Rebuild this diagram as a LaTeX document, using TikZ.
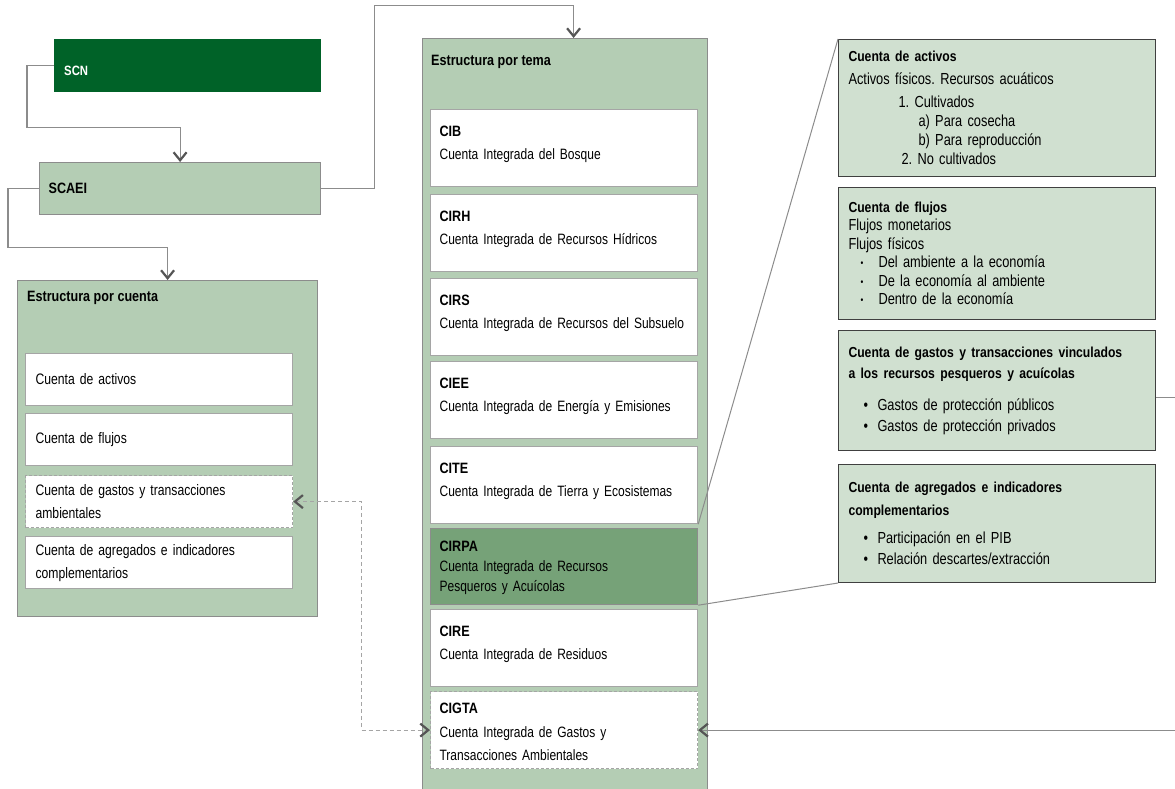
\documentclass[tikz,border=0pt]{standalone}
\usepackage{fontspec}
\setmainfont[FakeStretch=0.8, BoldFeatures={FakeStretch=0.84}]{Liberation Sans}
\usetikzlibrary{arrows.meta}
\definecolor{verdeosc}{RGB}{0,98,40}
\definecolor{salvia}{RGB}{180,205,180}
\definecolor{verdemed}{RGB}{118,162,120}
\definecolor{verdepal}{RGB}{208,224,208}
\definecolor{borde}{RGB}{140,140,140}
\definecolor{bordeint}{RGB}{165,165,165}
\definecolor{oscuro}{RGB}{64,64,64}
\definecolor{flecha}{RGB}{85,85,85}
\frenchspacing
% encabezados de los recuadros de detalle
\newcommand{\cab}[1]{{\bfseries\fontsize{14.5}{21}\selectfont #1}}
\begin{document}
\begin{tikzpicture}[x=1pt, y=-1pt,
	panel/.style={draw=borde, line width=1.2pt, fill=salvia, anchor=north west, inner sep=0pt},
	titulo/.style={anchor=west, inner sep=0pt, font=\bfseries\fontsize{15}{18}\selectfont},
	cta/.style={draw=bordeint, line width=1.2pt, fill=white, anchor=north west, inner xsep=10pt, inner ysep=0pt, text width=247pt, minimum height=52pt, align=left, font=\fontsize{15.2}{23}\selectfont},
	tema/.style={draw=bordeint, line width=1.2pt, fill=white, anchor=north west, inner xsep=9pt, inner ysep=0pt, text width=249pt, align=left, text height=27pt, text depth=50pt, font=\fontsize{15}{23}\selectfont},
	detalle/.style={draw=oscuro, line width=1pt, fill=verdepal, anchor=north west, inner xsep=10pt, inner ysep=0pt, text width=297pt, align=left, font=\fontsize{16}{19}\selectfont},
	punteado/.style={draw=bordeint, dash pattern=on 3pt off 2pt},
	conn/.style={draw=borde, line width=1.2pt},
	fl/.style={-{Straight Barb[length=8pt, width=13pt, line width=2.2pt, color=flecha]}},
	flfl/.style={{Straight Barb[length=8pt, width=13pt, line width=2.2pt, color=flecha]}-{Straight Barb[length=8pt, width=13pt, line width=2.2pt, color=flecha]}},
	enlace/.style={draw=borde, line width=1pt}]
	\useasboundingbox (0,0) rectangle (1175,789);

	% cajas de arriba
	\node[anchor=north west, fill=verdeosc, text=white, inner xsep=10pt, inner ysep=0pt, text width=247pt, align=left, text height=36pt, text depth=17pt, font=\bfseries\fontsize{13.5}{15}\selectfont] (scn) at (54,39) {SCN};
	\node[anchor=north west, draw=borde, line width=1.2pt, fill=salvia, inner xsep=9pt, inner ysep=0pt, text width=263pt, minimum height=52pt, align=left, font=\bfseries\fontsize{15}{18}\selectfont] (scaei) at (39,162) {SCAEI};

	% estructura por cuenta
	\node[panel, minimum width=300pt, minimum height=336pt] (cuenta) at (17,280) {};
	\node[titulo] (tcuenta) at (27,298) {Estructura por cuenta};
	\node[cta] (cactivos) at (25,352.5) {Cuenta de activos};
	\node[cta] (cflujos) at (25,413) {Cuenta de flujos};
	\node[cta, punteado] (cgastos) at (25,475) {Cuenta de gastos y transacciones\\ambientales};
	\node[cta] (cagreg) at (25,536) {Cuenta de agregados e indicadores\\complementarios};

	% estructura por tema
	\node[panel, minimum width=285pt, minimum height=757pt] (tema) at (422,38) {};
	\node[titulo] (ttema) at (431,62) {Estructura por tema};
	\node[tema] (cib) at (430,109) {\textbf{CIB}\\Cuenta Integrada del Bosque};
	\node[tema] (cirh) at (430,194) {\textbf{CIRH}\\Cuenta Integrada de Recursos Hídricos};
	\node[tema] (cirs) at (430,278) {\textbf{CIRS}\\\mbox{Cuenta Integrada de Recursos del Subsuelo}};
	\node[tema] (ciee) at (430,361) {\textbf{CIEE}\\Cuenta Integrada de Energía y Emisiones};
	\node[tema] (cite) at (430,446) {\textbf{CITE}\\Cuenta Integrada de Tierra y Ecosistemas};
	\node[tema, fill=verdemed, draw=borde, text height=23pt, text depth=53pt, font=\fontsize{15}{20}\selectfont] (cirpa) at (430,528) {\textbf{CIRPA}\\Cuenta Integrada de Recursos\\Pesqueros y Acuícolas};
	\node[tema] (cire) at (430,609) {\textbf{CIRE}\\Cuenta Integrada de Residuos};
	\node[tema, punteado, text height=22pt, text depth=55pt, font=\fontsize{15}{23.5}\selectfont] (cigta) at (430,691) {\textbf{CIGTA}\\Cuenta Integrada de Gastos y\\Transacciones Ambientales};

	% detalle de CIRPA
	\node[detalle, minimum height=137pt] (dactivos) at (838,39) {\cab{Cuenta de activos}\\[4pt]
		Activos físicos. Recursos acuáticos\\[4pt]
		\hspace*{50pt}1. Cultivados\\
		\hspace*{70pt}a) Para cosecha\\
		\hspace*{70pt}b) Para reproducción\\
		\hspace*{53pt}2. No cultivados};
	\node[detalle, minimum height=132pt, font=\fontsize{16}{18.5}\selectfont] (dflujos) at (838,187) {\cab{Cuenta de flujos}\\
		Flujos monetarios\\
		Flujos físicos\\
		\hspace*{12pt}\makebox[18pt][l]{\raisebox{1pt}{\fontsize{10}{10}\selectfont\textbullet}}Del ambiente a la economía\\
		\hspace*{12pt}\makebox[18pt][l]{\raisebox{1pt}{\fontsize{10}{10}\selectfont\textbullet}}De la economía al ambiente\\
		\hspace*{12pt}\makebox[18pt][l]{\raisebox{1pt}{\fontsize{10}{10}\selectfont\textbullet}}Dentro de la economía};
	\node[detalle, minimum height=120pt, font=\fontsize{16}{21}\selectfont] (dgastos) at (838,330) {\cab{Cuenta de gastos y transacciones vinculados\\a los recursos pesqueros y acuícolas}\\[11pt]
		\hspace*{15pt}\makebox[14pt][l]{\textbullet}Gastos de protección públicos\\
		\hspace*{15pt}\makebox[14pt][l]{\textbullet}Gastos de protección privados};
	\node[detalle, minimum height=118pt, font=\fontsize{16}{21}\selectfont] (dagreg) at (838,464) {\cab{Cuenta de agregados e indicadores}\\[2pt]
		\cab{complementarios}\\[7pt]
		\hspace*{15pt}\makebox[14pt][l]{\textbullet}Participación en el PIB\\
		\hspace*{15pt}\makebox[14pt][l]{\textbullet}Relación descartes/extracción};

	% conectores
	\draw[conn, fl] (scn.west) -- ++(-27,0) -- ++(0,61.5) -| (scaei.north);
	\draw[conn, fl] (scaei.west) -- ++(-31,0) -- ++(0,59) -| (cuenta.north);
	\draw[conn, fl] (scaei.east) -- ++(53,0) -- ++(0,-183) -| ([xshift=8.5pt]tema.north);
	\draw[conn, fl] ([yshift=-7pt]dgastos.east) -- ++(40,0) |- (cigta.east);
	\draw[conn, punteado, dash pattern=on 4pt off 3pt, flfl] (cgastos.east) -- ++(68,0) |- (cigta.west);
	\draw[enlace] (cite.south east) -- (dactivos.north west);
	\draw[enlace] (cirpa.south east) -- (dagreg.south west);

\end{tikzpicture}
\end{document}
